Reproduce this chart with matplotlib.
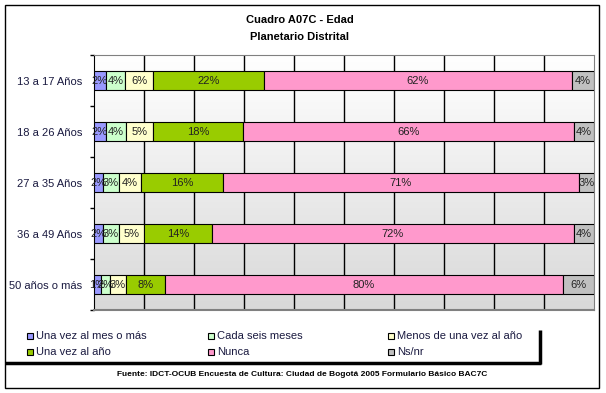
import numpy as np
import matplotlib.pyplot as plt
from matplotlib.lines import Line2D
from matplotlib.patches import Rectangle

plt.rcParams['font.family'] = ['Liberation Sans', 'DejaVu Sans']

categories = ["13 a 17 Años", "18 a 26 Años", "27 a 35 Años", "36 a 49 Años", "50 años o más"]
series = ["Una vez al mes o más", "Cada seis meses", "Menos de una vez al año",
          "Una vez al año", "Nunca", "Ns/nr"]
mes = [2.4, 2.4, 1.8, 1.8, 1.4]
seis = [3.8, 4.0, 3.2, 3.2, 1.8]
menos = [5.6, 5.4, 4.4, 5.0, 3.2]
anio = [22.2, 18.0, 16.4, 13.6, 7.8]
nunca = [61.6, 66.2, 71.1, 72.4, 79.6]
nsnr = [4.4, 4.0, 3.1, 4.0, 6.2]
colors = ["#9999FF", "#CCFFCC", "#FFFFCC", "#99CC00", "#FF99CC", "#C0C0C0"]

W, H = 606, 393
fig = plt.figure(figsize=(W / 100, H / 100), dpi=100)

def fx(px):
    return px / W

def fy(py):
    return 1 - py / H

# outer frame
fig.patches.append(Rectangle((fx(5), fy(388)), fx(594), 383 / H, transform=fig.transFigure,
                             fill=False, edgecolor="black", linewidth=1))

ax = fig.add_axes([fx(94), fy(310), fx(500), 255 / H])

# gradient background, white at top to grey at bottom
grad = np.linspace(1.0, 0.85, 256).reshape(-1, 1)
ax.imshow(np.dstack([grad, grad, grad]), aspect="auto", extent=[0, 100, 4.5, -0.5],
          zorder=0)

y = np.arange(len(categories))
data = [mes, seis, menos, anio, nunca, nsnr]
left = np.zeros(len(categories))
for vals, c in zip(data, colors):
    vals = np.array(vals)
    ax.barh(y, vals, left=left, height=0.39, color=c, edgecolor="black", linewidth=0.8,
            zorder=3)
    for yi, l, v in zip(y, left, vals):
        ax.text(l + v / 2, yi, f"{v:.0f}%", ha="center", va="center", fontsize=8,
                color="#222222", zorder=4)
    left += vals

ax.set_xlim(0, 100)
ax.set_ylim(4.5, -0.5)
for gx in range(10, 100, 10):
    ax.axvline(gx, color="black", linewidth=1, zorder=1)

ax.set_xticks([])
ax.set_yticks(y)
ax.set_yticklabels(categories, fontsize=8, color="#1a1a40")
ax.set_yticks(np.arange(-0.5, 5, 1), minor=True)
ax.tick_params(axis="y", which="major", length=0, pad=8.5)
ax.tick_params(axis="y", which="minor", length=3, width=1, color="black")

for s in ["top", "right"]:
    ax.spines[s].set_color("#808080")
ax.spines["bottom"].set_color("#808080")
ax.spines["bottom"].set_linewidth(1.5)
ax.spines["left"].set_color("black")

# titles
fig.text(fx(300), fy(20), "Cuadro A07C - Edad", ha="center", va="center",
         fontsize=8, fontweight="bold")
fig.text(fx(300), fy(37), "Planetario Distrital", ha="center", va="center",
         fontsize=8, fontweight="bold")

# legend, laid out by hand in three columns
col_x = [27, 208, 388]
row_y = [336, 352]
for i, (name, c) in enumerate(zip(series, colors)):
    px = col_x[i % 3]
    py = row_y[i // 3]
    fig.patches.append(Rectangle((fx(px), fy(py + 3)), fx(6), 6 / H,
                                 transform=fig.transFigure, facecolor=c,
                                 edgecolor="black", linewidth=0.8))
    fig.text(fx(px + 9), fy(py), name, ha="left", va="center", fontsize=8,
             color="#1a1a40")

fig.lines.append(Line2D([fx(5), fx(541)], [fy(363), fy(363)], transform=fig.transFigure,
                        color="black", linewidth=2.5, solid_capstyle="butt"))
fig.lines.append(Line2D([fx(540), fx(540)], [fy(330), fy(364)], transform=fig.transFigure,
                        color="black", linewidth=2.5, solid_capstyle="butt"))

fig.text(fx(302), fy(374),
         "Fuente: IDCT-OCUB Encuesta de Cultura: Ciudad de Bogotá 2005 Formulario Básico BAC7C",
         ha="center", va="center", fontsize=6, fontweight="bold")

fig.savefig("out.png", dpi=100)
